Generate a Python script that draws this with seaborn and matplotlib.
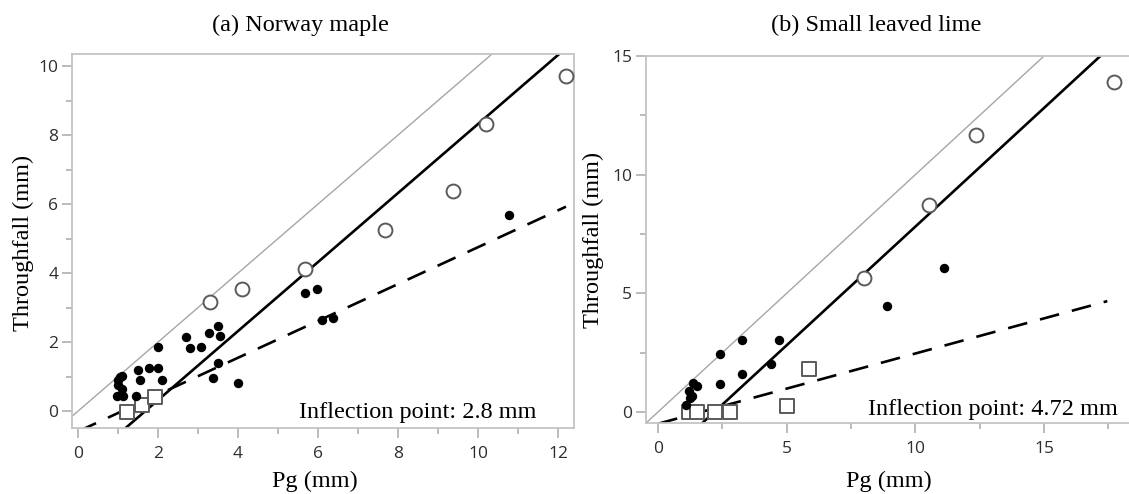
import matplotlib
matplotlib.use("Agg")
import matplotlib.pyplot as plt
from matplotlib.ticker import MultipleLocator
import numpy as np
import pandas as pd
import seaborn as sns

# ---- Norway maple ----
maple_dot_pg = [1.05, 1.11, 0.99, 0.97, 1.09, 1.13, 1.45, 1.51, 1.55, 1.78, 2.01, 2.09,
                2.01, 2.70, 2.80, 3.07, 3.28, 3.51, 3.55, 3.51, 3.38, 4.01, 5.68, 5.97,
                6.09, 6.38, 10.78, 1.00]
maple_dot_tf = [0.99, 1.01, 0.90, 0.44, 0.63, 0.44, 0.44, 1.19, 0.90, 1.24, 1.24, 0.90,
                1.86, 2.15, 1.82, 1.86, 2.25, 2.46, 2.17, 1.40, 0.95, 0.80, 3.41, 3.54,
                2.64, 2.69, 5.68, 0.75]
maple_circle_pg = [3.30, 4.09, 5.68, 7.68, 9.37, 10.19, 12.19]
maple_circle_tf = [3.17, 3.53, 4.11, 5.25, 6.39, 8.32, 9.71]
maple_square_pg = [1.22, 1.59, 1.93]
maple_square_tf = [-0.02, 0.19, 0.41]
maple_fit_solid = (1.0, -1.68)      # slope, intercept
maple_fit_dashed = (0.534, -0.59)
maple_dashed_range = [0.0, 12.2]
maple_inflection = 2.8

# ---- Small leaved lime ----
lime_dot_pg = [1.09, 1.22, 1.32, 1.36, 1.51, 1.25, 2.40, 2.40, 3.27, 3.27, 4.38, 4.70,
               8.90, 11.11]
lime_dot_tf = [0.27, 0.86, 0.65, 1.21, 1.07, 0.60, 2.42, 1.17, 3.05, 1.61, 2.02, 3.02,
               4.46, 6.05]
lime_circle_pg = [8.02, 10.52, 12.34, 17.72]
lime_circle_tf = [5.66, 8.73, 11.69, 13.90]
lime_square_pg = [1.22, 1.51, 2.23, 2.79, 5.00, 5.87]
lime_square_tf = [-0.01, 0.01, -0.01, -0.01, 0.25, 1.82]
lime_fit_solid = (1.0, -2.19)
lime_fit_dashed = (0.296, -0.5)
lime_dashed_range = [0.0, 17.46]
lime_inflection = 4.72

sns.set_theme(style="white")
plt.rcParams["font.family"] = ["Liberation Serif", "DejaVu Serif"]

SPINE = "#c4c4c4"
TICKC = "#a8a8a8"
LABELC = "#2e2e2e"

fig = plt.figure(figsize=(11.29, 4.94), dpi=100)
ax1 = fig.add_axes([0.0638, 0.1336, 0.4446, 0.7571])
ax2 = fig.add_axes([0.5722, 0.1437, 0.4300, 0.7429])


def draw_panel(ax, dot_pg, dot_tf, cir_pg, cir_tf, sq_pg, sq_tf, solid, dashed, drange):
    # 1:1 reference line
    ax.axline((0, 0), slope=1, color="#a6a6a6", lw=1.0, zorder=1)
    # regression above the inflection point
    ax.axline((0, solid[1]), slope=solid[0], color="black", lw=1.9, zorder=2)
    # dashed fit for the lower part
    dx = np.array(drange)
    dline = pd.DataFrame({"pg": dx, "tf": dashed[0] * dx + dashed[1]})
    sns.lineplot(data=dline, x="pg", y="tf", ax=ax, color="black", lw=1.9,
                 zorder=2, legend=False)
    ax.lines[-1].set_dashes((7.5, 5.0))

    sq = pd.DataFrame({"pg": sq_pg, "tf": sq_tf})
    sns.scatterplot(data=sq, x="pg", y="tf", ax=ax, marker="s", s=105,
                    facecolor="white", edgecolor="#5a5a5a", linewidth=1.4, zorder=3)
    cir = pd.DataFrame({"pg": cir_pg, "tf": cir_tf})
    sns.scatterplot(data=cir, x="pg", y="tf", ax=ax, marker="o", s=100,
                    facecolor="white", edgecolor="#5a5a5a", linewidth=1.4, zorder=3)
    dot = pd.DataFrame({"pg": dot_pg, "tf": dot_tf})
    sns.scatterplot(data=dot, x="pg", y="tf", ax=ax, marker="o", s=46,
                    color="black", edgecolor="black", linewidth=0, zorder=4)

    ax.set_xlabel("")
    ax.set_ylabel("")
    for side in ["left", "bottom", "top", "right"]:
        ax.spines[side].set_color(SPINE)
        ax.spines[side].set_linewidth(1.3)
    ax.tick_params(which="major", direction="out", length=7, width=1.1, color=TICKC,
                   pad=3, labelsize=12.5, labelcolor=LABELC, left=True, bottom=True)
    ax.tick_params(which="minor", direction="out", length=4, width=1.1, color=TICKC,
                   left=True, bottom=True)
    ax.tick_params(axis="x", pad=6)


draw_panel(ax1, maple_dot_pg, maple_dot_tf, maple_circle_pg, maple_circle_tf,
           maple_square_pg, maple_square_tf, maple_fit_solid, maple_fit_dashed,
           maple_dashed_range)
ax1.set_xlim(-0.15, 12.4)
ax1.set_ylim(-0.49, 10.35)
ax1.xaxis.set_major_locator(MultipleLocator(2))
ax1.xaxis.set_minor_locator(MultipleLocator(1))
ax1.yaxis.set_major_locator(MultipleLocator(2))
ax1.yaxis.set_minor_locator(MultipleLocator(1))

draw_panel(ax2, lime_dot_pg, lime_dot_tf, lime_circle_pg, lime_circle_tf,
           lime_square_pg, lime_square_tf, lime_fit_solid, lime_fit_dashed,
           lime_dashed_range)
ax2.set_xlim(-0.47, 18.4)
ax2.set_ylim(-0.47, 15.0)
ax2.xaxis.set_major_locator(MultipleLocator(5))
ax2.xaxis.set_minor_locator(MultipleLocator(2.5))
ax2.yaxis.set_major_locator(MultipleLocator(5))
ax2.yaxis.set_minor_locator(MultipleLocator(2.5))
ax2.spines["right"].set_visible(False)

for ax in (ax1, ax2):
    for lab in ax.get_xticklabels() + ax.get_yticklabels():
        lab.set_fontfamily(["Open Sans", "DejaVu Sans"])

ax1.text(0.926, 0.027, f"Inflection point: {maple_inflection} mm", transform=ax1.transAxes,
         ha="right", va="baseline", fontsize=17.5, color="black")
ax2.text(0.971, 0.022, f"Inflection point: {lime_inflection} mm", transform=ax2.transAxes,
         ha="right", va="baseline", fontsize=17.5, color="black")

fig.text(300 / 1129, 1 - 25 / 494, "(a) Norway maple", ha="center", va="center",
         fontsize=17.5, color="black")
fig.text(876 / 1129, 1 - 25 / 494, "(b) Small leaved lime", ha="center", va="center",
         fontsize=17.5, color="black")
fig.text(23 / 1129, 1 - 243 / 494, "Throughfall (mm)", rotation=90, ha="center",
         va="center", fontsize=17.5, color="black")
fig.text(593 / 1129, 1 - 240 / 494, "Throughfall (mm)", rotation=90, ha="center",
         va="center", fontsize=17.5, color="black")
fig.text(315 / 1129, 1 - 481 / 494, "Pg (mm)", ha="center", va="center",
         fontsize=17.5, color="black")
fig.text(889 / 1129, 1 - 481 / 494, "Pg (mm)", ha="center", va="center",
         fontsize=17.5, color="black")

fig.savefig("out.png", dpi=100, facecolor="white")
